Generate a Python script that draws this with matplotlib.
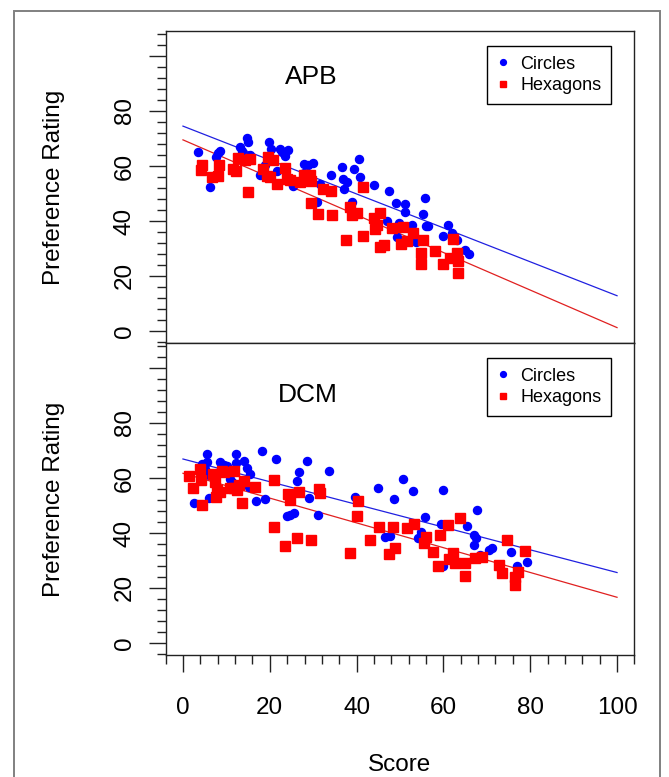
import numpy as np
import matplotlib.pyplot as plt
from matplotlib.lines import Line2D
from matplotlib.patches import Rectangle
from matplotlib.ticker import MultipleLocator

plt.rcParams['font.family'] = ['Liberation Sans', 'DejaVu Sans']

# --- APB: punteggio / preferenza ---
apb_circ_x = [3.5, 6.2, 8.1, 8.6, 7.5, 13.1, 13.5, 14.8, 15.0, 15.4, 17.7, 18.9, 19.9, 20.2, 21.6,
              22.3, 22.9, 23.6, 24.1, 23.2, 25.4, 27.9, 28.9, 30.0, 27.8, 31.6, 34.2, 36.6, 36.9,
              37.9, 37.2, 39.4, 40.6, 40.9, 43.9, 47.5, 49.0, 51.2, 51.2, 38.9, 30.8, 46.9, 49.8,
              49.2, 55.8, 55.4, 52.8, 56.0, 56.5, 53.7, 60.0, 61.1, 61.9, 63.1, 65.0, 66.0]
apb_circ_y = [65.0, 52.4, 64.8, 65.5, 63.3, 66.8, 65.6, 70.0, 68.8, 64.0, 56.8, 60.4, 68.8, 66.2, 58.0,
              66.0, 65.0, 63.5, 65.8, 65.2, 52.8, 60.8, 60.2, 61.1, 57.5, 53.3, 56.6, 59.6, 55.4,
              54.0, 51.8, 59.0, 62.6, 56.0, 53.0, 50.8, 46.4, 46.0, 43.4, 47.0, 47.0, 39.8, 39.2,
              34.0, 48.2, 42.7, 38.6, 38.3, 38.3, 32.4, 34.4, 38.6, 35.6, 33.2, 29.6, 28.1]

apb_hex_x = [4.3, 4.1, 6.6, 8.1, 8.3, 11.6, 12.2, 12.7, 14.3, 15.4, 15.0, 18.4, 19.7, 20.8, 19.3,
             20.0, 21.7, 23.5, 23.9, 24.7, 26.9, 27.9, 29.3, 29.6, 32.2, 34.2, 29.5, 31.0, 34.3,
             37.5, 41.5, 41.5, 38.5, 38.9, 40.0, 43.9, 45.4, 44.6, 44.2, 45.4, 46.2, 48.1, 50.2,
             50.8, 51.5, 52.9, 55.4, 54.8, 54.8, 58.1, 62.3, 63.1, 61.5, 60.0, 63.4, 63.4]
apb_hex_y = [60.4, 58.7, 56.0, 56.4, 60.2, 59.0, 58.1, 62.8, 62.0, 62.6, 50.4, 59.0, 63.2, 62.0, 56.4,
             56.0, 53.4, 59.2, 55.2, 54.8, 54.0, 56.6, 56.8, 54.4, 51.8, 51.0, 46.4, 42.5, 42.0,
             33.2, 34.4, 52.2, 45.2, 42.2, 42.8, 41.0, 42.8, 38.6, 36.9, 30.5, 31.1, 37.5, 31.7,
             37.7, 32.6, 35.6, 32.9, 28.4, 24.5, 29.2, 33.6, 28.4, 26.6, 24.2, 25.4, 21.1]

# --- DCM ---
dcm_circ_x = [2.6, 4.3, 5.6, 5.6, 5.1, 6.1, 5.9, 8.5, 9.4, 10.2, 10.8, 11.2, 12.2, 12.2, 14.1, 14.7,
              15.4, 15.3, 16.8, 18.2, 18.9, 21.4, 23.9, 24.7, 25.6, 26.2, 26.7, 28.5, 29.1, 31.2,
              33.6, 39.6, 44.9, 46.6, 47.8, 48.7, 50.8, 53.1, 59.8, 55.7, 54.8, 54.2, 59.4, 65.5,
              67.7, 67.1, 67.6, 67.0, 70.6, 71.1, 75.6, 76.9, 79.2, 60.0, 68.4]
dcm_circ_y = [50.8, 65.2, 68.8, 65.8, 63.4, 61.0, 52.6, 65.8, 64.9, 64.4, 59.8, 58.6, 68.8, 65.6, 66.1,
              63.7, 61.6, 56.8, 51.7, 69.9, 52.3, 67.0, 46.3, 46.6, 47.2, 59.0, 62.0, 66.2, 52.6,
              46.6, 62.5, 52.9, 56.5, 38.5, 38.9, 52.3, 59.6, 55.3, 55.6, 45.9, 40.4, 38.3, 43.3,
              42.6, 48.2, 39.4, 38.3, 35.5, 33.7, 34.4, 32.9, 28.1, 29.5, 28.1, 32.0]

dcm_hex_x = [1.5, 2.4, 3.9, 4.1, 4.3, 7.0, 7.4, 7.8, 8.5, 7.6, 8.9, 9.4, 10.8, 11.7, 12.5, 11.8, 12.9,
             13.5, 14.0, 16.6, 20.9, 20.9, 23.5, 24.3, 24.7, 26.3, 26.7, 29.6, 31.3, 31.6, 38.5,
             40.0, 40.4, 43.2, 45.1, 47.5, 48.8, 48.3, 51.5, 53.2, 55.9, 55.5, 57.5, 59.2, 61.1,
             63.9, 58.8, 62.3, 61.4, 62.7, 65.0, 65.0, 67.3, 68.8, 72.8, 73.6, 74.6, 77.2, 76.5,
             76.5, 78.8]
dcm_hex_y = [60.6, 56.2, 63.2, 59.2, 50.2, 61.6, 58.6, 55.6, 55.0, 53.2, 62.5, 62.2, 56.2, 56.2, 55.6,
             62.5, 57.6, 50.8, 58.9, 56.8, 59.2, 42.1, 35.3, 54.1, 52.1, 38.3, 54.8, 37.6, 55.9,
             54.4, 32.6, 46.1, 51.8, 37.6, 42.1, 32.5, 34.4, 42.3, 41.8, 43.3, 38.5, 36.4, 33.2,
             39.1, 42.8, 45.5, 27.8, 32.8, 30.4, 28.9, 29.2, 24.4, 30.8, 31.3, 28.3, 25.3, 37.3,
             25.9, 23.9, 21.2, 33.4]

# rette di regressione (x = 0 e x = 100)
fit_x = [0, 100]
apb_fit_circ = [74.5, 12.8]
apb_fit_hex = [69.5, 1.2]
dcm_fit_circ = [66.9, 25.6]
dcm_fit_hex = [61.7, 16.6]

W, H = 669.0, 777.0


def box(l, t, r, b):
    return [l / W, 1 - b / H, (r - l) / W, (b - t) / H]


fig = plt.figure(figsize=(W / 100, H / 100), dpi=100)
ax1 = fig.add_axes(box(165.6, 31, 634.4, 343))
ax2 = fig.add_axes(box(165.6, 343, 634.4, 655))

pannelli = [
    (ax1, 'APB', (29.5, 92.5), apb_circ_x, apb_circ_y, apb_hex_x, apb_hex_y, apb_fit_circ, apb_fit_hex),
    (ax2, 'DCM', (28.7, 90.2), dcm_circ_x, dcm_circ_y, dcm_hex_x, dcm_hex_y, dcm_fit_circ, dcm_fit_hex),
]

for ax, nome, pos, cx, cy, hx, hy, fc, fh in pannelli:
    ax.plot(fit_x, fc, color='#2020e0', lw=0.9, zorder=1)
    ax.plot(fit_x, fh, color='#e02020', lw=0.9, zorder=1)
    ax.plot(cx, cy, ls='', marker='o', ms=5.8, color='blue', mec='blue', zorder=2)
    ax.plot(hx, hy, ls='', marker='s', ms=7.0, color='red', mec='red', zorder=3)
    ax.text(pos[0], pos[1], nome, ha='center', va='center', fontsize=19)

    ax.set_xlim(-4, 104)
    ax.set_ylim(-4.4, 109.1)
    ax.set_yticks([0, 20, 40, 60, 80, 100])
    ax.set_yticklabels(['0', '20', '40', '60', '80', ''])
    ax.yaxis.set_minor_locator(MultipleLocator(4))
    ax.set_xticks([0, 20, 40, 60, 80, 100])
    ax.xaxis.set_minor_locator(MultipleLocator(4))
    ax.tick_params(which='major', direction='out', length=12.5, width=1, colors='#222222',
                   labelsize=17.5, labelcolor='black')
    ax.tick_params(which='minor', direction='out', length=6.5, width=1, colors='#222222')
    ax.tick_params(axis='y', labelrotation=90, pad=9)
    ax.tick_params(axis='x', pad=18)
    for lab in ax.get_yticklabels():
        lab.set_va('center')
    for sp in ax.spines.values():
        sp.set_color('#222222')
        sp.set_linewidth(1)

    maniglie = [Line2D([], [], ls='', marker='o', ms=4.2, color='blue'),
                Line2D([], [], ls='', marker='s', ms=4.2, color='red')]
    leg = ax.legend(maniglie, ['Circles', 'Hexagons'], loc='upper left',
                    bbox_to_anchor=(0.6856, 0.953), borderaxespad=0, fontsize=13,
                    fancybox=False, edgecolor='black', framealpha=1, borderpad=0.55,
                    handlelength=0.7, handletextpad=0.6, labelspacing=0.25)
    leg.get_frame().set_linewidth(1)

ax1.tick_params(axis='x', which='both', bottom=False, labelbottom=False)

fig.text(54 / W, 1 - 187 / H, 'Preference Rating', rotation=90, ha='center', va='center', fontsize=17.5)
fig.text(54 / W, 1 - 499 / H, 'Preference Rating', rotation=90, ha='center', va='center', fontsize=17.5)
fig.text(400 / W, 1 - 765 / H, 'Score', ha='center', va='center', fontsize=17.5)

# cornice grigia esterna
fig.patches.append(Rectangle((14 / W, -0.05), (660 - 14) / W, 1.05 - 11 / H,
                             transform=fig.transFigure, fill=False, edgecolor='#808080', lw=1.4))

fig.savefig('out.png', dpi=100)
